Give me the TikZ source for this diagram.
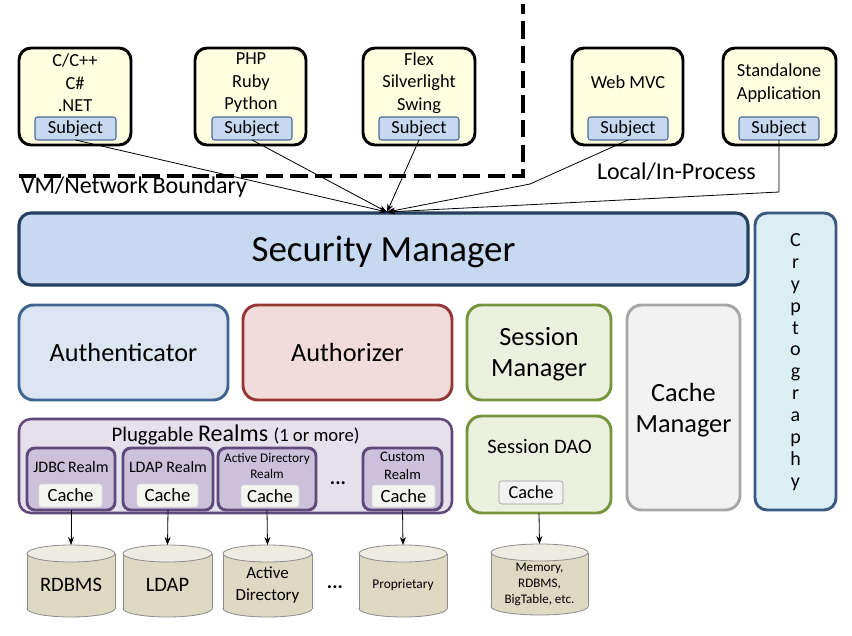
\documentclass[tikz,border=0pt]{standalone}
\usepackage{fontspec}
\setmainfont{Carlito}
\usetikzlibrary{arrows.meta,fit}
\definecolor{clientfill}{HTML}{FFFFE1}
\definecolor{subjfill}{HTML}{C6D9F1}
\definecolor{subjdraw}{HTML}{4A6B94}
\definecolor{smfill}{HTML}{C6D9F1}
\definecolor{smdraw}{HTML}{243F60}
\definecolor{cryfill}{HTML}{DBEEF4}
\definecolor{crydraw}{HTML}{3C5A80}
\definecolor{anfill}{HTML}{DCE6F2}
\definecolor{andraw}{HTML}{40648F}
\definecolor{azfill}{HTML}{F2DCDB}
\definecolor{azdraw}{HTML}{953735}
\definecolor{ssfill}{HTML}{EBF1DE}
\definecolor{ssdraw}{HTML}{77933C}
\definecolor{cmfill}{HTML}{F2F2F2}
\definecolor{cmdraw}{HTML}{A6A6A6}
\definecolor{rlfill}{HTML}{E5E0EC}
\definecolor{rlinner}{HTML}{CCC1DA}
\definecolor{rldraw}{HTML}{5F497A}
\definecolor{cachefill}{HTML}{F4F4F0}
\definecolor{cylfill}{HTML}{DDD9C3}
\definecolor{cyltop}{HTML}{EEECE1}
\definecolor{cyldraw}{HTML}{8C8C8C}
\newcommand\dbcyl[6]{%
  \filldraw[cylstyle] ({(#2+#3)/2},#5) ellipse [x radius={(#3-#2)/2}, y radius=8.5];
  \fill[cylfill] (#2,#4) rectangle (#3,#5);
  \draw[cylstyle] (#2,#4) -- (#2,#5) (#3,#4) -- (#3,#5);
  \filldraw[cylstyle,fill=cyltop] ({(#2+#3)/2},#4) ellipse [x radius={(#3-#2)/2}, y radius=8.5];
  \node[fit={(#2,#4-8.5) (#3,#5+8.5)}, inner sep=0pt] (#1) {};
  \node[cyltext] (#1t) at ({(#2+#3)/2},#6) {};
}
\begin{document}
\begin{tikzpicture}[x=0.75pt,y=-0.75pt,
  every node/.style={inner sep=0pt, outer sep=0pt},
  wh/.style 2 args={minimum width={#1*0.75pt}, minimum height={#2*0.75pt}},
  client/.style={draw=black, line width=2.2pt, fill=clientfill, rounded corners=9pt},
  subj/.style={draw=subjdraw, line width=0.8pt, fill=subjfill, rounded corners=2pt, font=\fontsize{13.8}{16}\selectfont},
  cltext/.style={align=center, font=\fontsize{13.8}{16.9}\selectfont},
  boundary/.style={line width=2.3pt, dash pattern=on 13pt off 5.5pt},
  lbl/.style={font=\fontsize{18}{20}\selectfont},
  conn/.style={line width=0.6pt, -{Stealth[length=6pt,width=4.5pt]}},
  bigfont/.style={font=\fontsize{19.7}{23.5}\selectfont},
  big/.style={line width=2.2pt, rounded corners=11pt, align=center, bigfont},
  realm/.style={draw=rldraw, line width=2.2pt, fill=rlinner, rounded corners=6pt},
  rcache/.style={draw=black!15, line width=0.4pt, fill=cachefill, rounded corners=2pt, font=\fontsize{14}{16}\selectfont},
  rtext/.style={align=center, font=\fontsize{12}{14}\selectfont},
  cylstyle/.style={draw=cyldraw, line width=0.6pt, fill=cylfill},
  cyltext/.style={align=center},
  dots/.style={font=\fontsize{15}{16}\selectfont\bfseries}
]
\useasboundingbox (0,0) rectangle (852,635);
\fill[white] (0,0) rectangle (852,635);

% boundary
\draw[boundary] (19,176) -- (523,176) -- (523,4);
\node[lbl, anchor=west] (vmlbl) at (21,187) {VM/Network\,Boundary};
\node[lbl, anchor=west] (loclbl) at (597,172) {Local/In-Process};

% clients
\node[client, fit={(19,48) (131,145)}] (c1) {};
\node[client, fit={(195,48) (306,145)}] (c2) {};
\node[client, fit={(363,48) (475,145)}] (c3) {};
\node[client, fit={(572,48) (683,145)}] (c4) {};
\node[client, fit={(723,48) (836,145)}] (c5) {};
\node[cltext] (c1t) at (75,83) {C/C++\\C\#\\.NET};
\node[cltext] (c2t) at (251,83) {PHP\\Ruby\\Python};
\node[cltext] (c3t) at (419,83) {Flex\\Silverlight\\Swing};
\node[cltext] (c4t) at (628,82) {Web MVC};
\node[cltext] (c5t) at (779,83) {Standalone\\Application};
\node[subj, wh={81}{23}] (s1) at (75.5,128.5) {Subject};
\node[subj, wh={80}{23}] (s2) at (252,128.5) {Subject};
\node[subj, wh={80}{23}] (s3) at (419,128.5) {Subject};
\node[subj, wh={80}{23}] (s4) at (628,128.5) {Subject};
\node[subj, wh={80}{23}] (s5) at (779,128.5) {Subject};

% security manager
\node[big, draw=smdraw, fill=smfill, rounded corners=9pt, line width=2.3pt, wh={729}{72},
  label={[font=\fontsize{27.7}{30}\selectfont, yshift=-2pt]center:Security Manager}] (sm) at (383.5,249) {};
\node[big, draw=crydraw, fill=cryfill, rounded corners=9pt, wh={81}{297}] (cry) at (795.5,361.5) {};
\node[align=center, font=\fontsize{15}{16.4}\selectfont] (cryt) at (795.5,362) {C\\r\\y\\p\\t\\o\\g\\r\\a\\p\\h\\y};

% connectors to security manager
\coordinate (hub) at (387,212);
\coordinate (bend4) at (530,184);
\coordinate (bend5) at (779,192);
\draw[conn] (s1.south) -- (hub);
\draw[conn] (s2.south) -- (hub);
\draw[conn] (s3.south) -- (hub);
\draw[conn] (s4.south) -- (bend4) -- (hub);
\draw[conn] (s5.south) -- (bend5) -- (hub);

% second row
\node[big, draw=andraw, fill=anfill, wh={209}{95}] (authn) at (123.5,352.5) {Authenticator};
\node[big, draw=azdraw, fill=azfill, wh={209}{95}] (authz) at (347.5,352.5) {Authorizer};
\node[big, draw=ssdraw, fill=ssfill, wh={144}{95},
  label={[bigfont, align=center, yshift=-1.5pt]center:Session\\Manager}] (smgr) at (539,352.5) {};
\node[big, draw=cmdraw, fill=cmfill, wh={113}{205},
  label={[bigfont, align=center, yshift=-2.2pt]center:Cache\\Manager}] (cmgr) at (683.5,407.5) {};

% realms
\node[draw=rldraw, line width=1.9pt, fill=rlfill, rounded corners=9pt, fit={(19,419) (452,513)}] (realms) {};
\node (realmst) at (235.5,435) {{\fontsize{15.6}{18}\selectfont Pluggable }{\fontsize{18}{18}\selectfont Realms }{\fontsize{14}{18}\selectfont (1 or more)}};
\node[realm, fit={(27,448) (115,510)}] (r1) {};
\node[realm, fit={(123,448) (213,510)}] (r2) {};
\node[realm, fit={(218,448) (316,510)}] (r3) {};
\node[realm, fit={(363,448) (442,510)}] (r4) {};
\node[rtext] (r1t) at (71,467) {JDBC\,Realm};
\node[rtext] (r2t) at (168,467) {LDAP Realm};
\node[rtext, font=\fontsize{9.9}{12}\selectfont] (r3t) at (267,466) {Active Directory\\Realm};
\node[rtext, font=\fontsize{10.9}{13.5}\selectfont] (r4t) at (402.5,466) {Custom\\Realm};
\node[rcache, wh={63}{23}] (k1) at (70.5,495.5) {Cache};
\node[rcache, wh={61}{23}] (k2) at (167.5,495.5) {Cache};
\node[rcache, wh={58}{22}] (k3) at (270,496) {Cache};
\node[rcache, wh={63}{22}] (k4) at (403.5,496) {Cache};
\node[dots] (rdots) at (338,483) {...};

% session dao
\node[draw=ssdraw, fill=ssfill, line width=2.2pt, rounded corners=11pt, fit={(467,416) (611,513)}] (sdao) {};
\node[font=\fontsize{15.4}{18}\selectfont] (sdaot) at (539.5,447) {Session DAO};
\node[rcache, draw=black!40, fill=cmfill, font=\fontsize{13.7}{16}\selectfont, wh={64}{23}] (k5) at (531,492.5) {Cache};

% data stores
\dbcyl{db1}{27}{115}{553.5}{608.5}{585}
\node[font=\fontsize{15.4}{18}\selectfont] at (db1t) {RDBMS};
\dbcyl{db2}{123}{212}{553.5}{608.5}{585}
\node[font=\fontsize{15.4}{18}\selectfont] at (db2t) {LDAP};
\dbcyl{db3}{223}{312}{553.5}{608.5}{585}
\node[align=center, font=\fontsize{12.7}{16.3}\selectfont] at (db3t) {Active\\Directory};
\dbcyl{db4}{359}{447}{553.5}{608.5}{585}
\node[font=\fontsize{10}{12}\selectfont] at (db4t) {Proprietary};
\dbcyl{db5}{491}{588}{552.5}{606.5}{584}
\node[align=center, font=\fontsize{9.8}{12}\selectfont] at (db5t) {Memory,\\RDBMS,\\BigTable, etc.};
\node[dots] (ddots) at (335,587) {...};

\draw[conn] (r1.south) -- (db1.north);
\draw[conn] (r2.south) -- (db2.north);
\draw[conn] (r3.south) -- (db3.north);
\draw[conn] (r4.south) -- (db4.north);
\draw[conn] (sdao.south) -- (db5.north);
\end{tikzpicture}
\end{document}
